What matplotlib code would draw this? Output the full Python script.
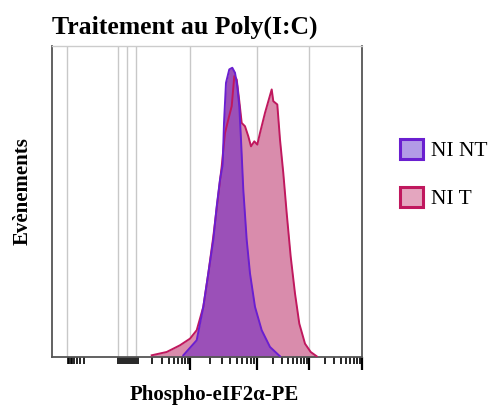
import numpy as np
import matplotlib
matplotlib.use("Agg")
import matplotlib.pyplot as plt
from matplotlib.patches import Patch

# ---- data (channel position vs. event count) ----
ni_nt_x = [131.3, 144.7, 151.3, 156.3, 161.3, 164.7, 168.0, 170.7, 172.0, 174.0,
           177.3, 180.3, 183.0, 185.3, 187.3, 189.0, 191.3, 194.7, 198.0, 203.0,
           209.7, 218.0, 228.0]
ni_nt_y = [1.7, 16.7, 50.0, 83.3, 116.7, 150.0, 176.7, 191.7, 233.3, 273.3,
           286.7, 288.3, 283.3, 270.0, 250.0, 216.7, 166.7, 116.7, 83.3, 50.0,
           26.7, 10.0, 0.7]

ni_t_x = [99.7, 114.7, 128.0, 138.0, 144.7, 151.3, 156.3, 161.3, 165.7, 169.7,
          171.3, 173.0, 176.3, 179.7, 182.3, 184.7, 187.3, 189.7, 193.0, 196.3,
          199.0, 202.3, 205.3, 208.0, 213.0, 217.3, 219.7, 221.3, 225.3, 228.0,
          231.3, 234.7, 238.7, 243.0, 247.3, 253.0, 258.7, 264.7]
ni_t_y = [1.7, 5.0, 11.7, 18.3, 26.7, 50.0, 83.3, 120.0, 156.7, 190.0,
          206.7, 223.3, 236.7, 250.0, 280.0, 276.7, 255.0, 233.3, 230.0, 220.0,
          210.0, 215.0, 211.7, 223.3, 243.3, 258.3, 266.7, 255.0, 251.7, 216.7,
          183.3, 143.3, 100.0, 63.3, 33.3, 13.3, 5.0, 0.7]

grid_x = [14.7, 66.0, 75.0, 84.0, 138.0, 205.0, 257.0]
decades = [(84.0, 138.0), (138.0, 205.0), (205.0, 257.0), (257.0, 310.0)]
neg_decade = (14.7, 40.0)
cluster_ticks = [66, 68, 70, 72, 74, 76, 78, 80, 82, 84, 86]

labels = ["NI NT", "NI T"]
title = "Traitement au Poly(I:C)"
xlabel = "Phospho-eIF2α-PE"
ylabel = "Evènements"

# ---- styling ----
fill_nt, line_nt = "#9b50b8", "#6a1fd0"
fill_t, line_t = "#d98cac", "#c0185e"
serif = ["Liberation Serif", "DejaVu Serif"]

fig = plt.figure(figsize=(4.98, 4.07), dpi=100)
ax = fig.add_axes([52 / 498, 50 / 407, 310 / 498, 311 / 407])

for gx in grid_x:
    ax.axvline(gx, color="#c8c8c8", lw=1.0, zorder=0)

ax.fill_between(ni_t_x, ni_t_y, color=fill_t, lw=0, zorder=1)
ax.fill_between(ni_nt_x, ni_nt_y, color=fill_nt, lw=0, zorder=2)
ax.plot(ni_t_x, ni_t_y, color=line_t, lw=1.4, zorder=3)
ax.plot(ni_nt_x, ni_nt_y, color=line_nt, lw=1.4, zorder=4)

ax.set_xlim(0, 310)
ax.set_ylim(0, 310)

# biexponential-like ticks
major = [138.0, 205.0, 257.0, 310.0]
minor = []
for a, b in decades:
    for k in range(2, 10):
        minor.append(a + (b - a) * np.log10(k))
for k in range(2, 10):
    minor.append(neg_decade[1] - (neg_decade[1] - neg_decade[0]) * np.log10(k))
minor += cluster_ticks
ax.set_xticks(major)
ax.set_xticks(minor, minor=True)
ax.set_xticklabels([])
ax.set_yticks([])
ax.tick_params(axis="x", which="major", direction="out", length=9, width=1.6, color="black")
ax.tick_params(axis="x", which="minor", direction="out", length=5, width=1.2, color="black")

for side in ["left", "bottom", "right"]:
    ax.spines[side].set_color("#555555")
    ax.spines[side].set_linewidth(1.3)
ax.spines["top"].set_color("#cccccc")
ax.spines["top"].set_linewidth(1.0)

ax.set_title(title, loc="left", fontsize=18.5, fontweight="bold", family=serif, pad=9, x=0.0)
fig.text(214 / 498, 1 - 395 / 407, xlabel, ha="center", va="center", fontsize=15,
         fontweight="bold", family=serif)
fig.text(23 / 498, 1 - 191 / 407, ylabel, ha="center", va="center", rotation=90,
         fontsize=15, fontweight="bold", family=serif)

handles = [Patch(facecolor="#b29be6", edgecolor=line_nt, lw=2.2),
           Patch(facecolor="#e4a6bf", edgecolor=line_t, lw=2.2)]
fig.legend(handles, labels, loc="center left", bbox_to_anchor=(400 / 498, 1 - 174 / 407),
           frameon=False, prop={"family": serif, "size": 15.5}, handlelength=1.05,
           handleheight=1.05, handletextpad=0.4, labelspacing=1.2, borderpad=0,
           borderaxespad=0)

fig.savefig("out.png", dpi=100)
